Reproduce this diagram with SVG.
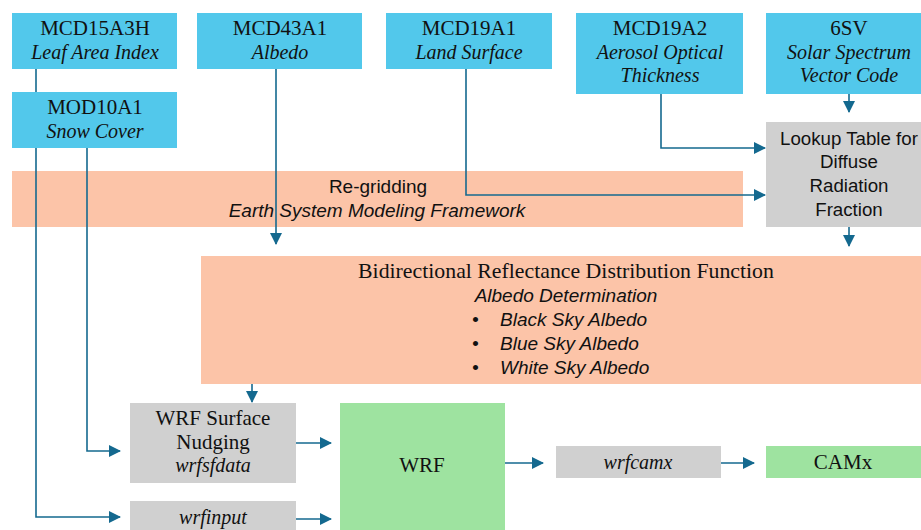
<svg xmlns="http://www.w3.org/2000/svg" width="921" height="530" viewBox="0 0 921 530">
<defs>
<marker id="ah" markerUnits="userSpaceOnUse" markerWidth="12" markerHeight="12" refX="11" refY="6" orient="auto">
<path d="M0,0 L12,6 L0,12 Z" fill="#14698f"/>
</marker>
<style>
.blue{fill:#52c8eb}
.sal{fill:#fcc4a8}
.gray{fill:#d0d0d0}
.green{fill:#9ee3a0}
.s{font-family:"Liberation Serif","DejaVu Serif",serif;font-size:21px;fill:#111;text-anchor:middle}
.si{font-family:"Liberation Serif","DejaVu Serif",serif;font-size:20px;font-style:italic;fill:#111;text-anchor:middle}
.a{font-family:"Liberation Sans","Open Sans",sans-serif;font-size:18.7px;fill:#111;text-anchor:middle}
.ai{font-family:"Liberation Sans","Open Sans",sans-serif;font-size:19px;font-style:italic;fill:#111}
.c{fill:none;stroke:#14698f;stroke-width:1.6}
</style>
</defs>
<rect width="921" height="530" fill="#fff"/>
<g id="regrid"><rect class="sal" x="12" y="171" width="731" height="56"/>
<text class="a" x="378" y="193" style="font-size:19px">Re-gridding</text>
<text class="ai" x="377" y="217" text-anchor="middle">Earth System Modeling Framework</text></g>
<g id="brdf"><rect class="sal" x="201" y="256" width="720" height="128"/>
<text class="s" x="566" y="278" style="font-size:21.8px">Bidirectional Reflectance Distribution Function</text>
<text class="ai" x="566" y="302" text-anchor="middle">Albedo Determination</text>
<text class="ai" x="472" y="326">•</text><text class="ai" x="500" y="326">Black Sky Albedo</text>
<text class="ai" x="472" y="350">•</text><text class="ai" x="500" y="350">Blue Sky Albedo</text>
<text class="ai" x="472" y="374">•</text><text class="ai" x="500" y="374">White Sky Albedo</text></g>
<g id="mcd15"><rect class="blue" x="12" y="13" width="165" height="56"/>
<text class="s" x="95" y="35">MCD15A3H</text><text class="si" x="95" y="59">Leaf Area Index</text></g>
<g id="mcd43"><rect class="blue" x="197" y="13" width="165" height="56"/>
<text class="s" x="280" y="35">MCD43A1</text><text class="si" x="280" y="59">Albedo</text></g>
<g id="mcd19a1"><rect class="blue" x="386" y="13" width="166" height="56"/>
<text class="s" x="469" y="35">MCD19A1</text><text class="si" x="469" y="59">Land Surface</text></g>
<g id="mcd19a2"><rect class="blue" x="576" y="13" width="167" height="81"/>
<text class="s" x="660" y="35">MCD19A2</text><text class="si" x="660" y="59">Aerosol Optical</text><text class="si" x="660" y="82">Thickness</text></g>
<g id="sv6"><rect class="blue" x="766" y="13" width="155" height="81"/>
<text class="s" x="849" y="35">6SV</text><text class="si" x="849" y="59">Solar Spectrum</text><text class="si" x="849" y="82">Vector Code</text></g>
<g id="mod10"><rect class="blue" x="12" y="92" width="165" height="56"/>
<text class="s" x="95" y="114">MOD10A1</text><text class="si" x="95" y="138">Snow Cover</text></g>
<g id="lookup"><rect class="gray" x="766" y="122" width="155" height="105"/>
<text class="a" x="849" y="145">Lookup Table for</text><text class="a" x="849" y="168">Diffuse</text>
<text class="a" x="849" y="192">Radiation</text><text class="a" x="849" y="216">Fraction</text></g>
<g id="nudging"><rect class="gray" x="130" y="403" width="166" height="80"/>
<text class="s" x="213" y="425">WRF Surface</text><text class="s" x="213" y="449">Nudging</text><text class="si" x="213" y="472">wrfsfdata</text></g>
<g id="wrfinput"><rect class="gray" x="130" y="501" width="166" height="40"/>
<text class="si" x="213" y="524">wrfinput</text></g>
<g id="wrf"><rect class="green" x="340" y="403" width="165" height="140"/>
<text class="s" x="422" y="472">WRF</text></g>
<g id="wrfcamx"><rect class="gray" x="556" y="446" width="165" height="32"/>
<text class="si" x="638" y="469">wrfcamx</text></g>
<g id="camx"><rect class="green" x="766" y="446" width="155" height="32"/>
<text class="s" x="843" y="469">CAMx</text></g>
<g id="connectors">
<path class="c" d="M36,69 V92"/>
<path class="c" d="M36,148 V517 H120" marker-end="url(#ah)"/>
<path class="c" d="M87,148 V451 H120" marker-end="url(#ah)"/>
<path class="c" d="M276,69 V244" marker-end="url(#ah)"/>
<path class="c" d="M466,69 V195 H765" marker-end="url(#ah)"/>
<path class="c" d="M661,94 V148 H765" marker-end="url(#ah)"/>
<path class="c" d="M849,94 V112" marker-end="url(#ah)"/>
<path class="c" d="M849,227 V246" marker-end="url(#ah)"/>
<path class="c" d="M252,384 V402" marker-end="url(#ah)"/>
<path class="c" d="M296,443 H331" marker-end="url(#ah)"/>
<path class="c" d="M296,519 H331" marker-end="url(#ah)"/>
<path class="c" d="M505,463 H543" marker-end="url(#ah)"/>
<path class="c" d="M721,463 H754" marker-end="url(#ah)"/>
</g>
</svg>
